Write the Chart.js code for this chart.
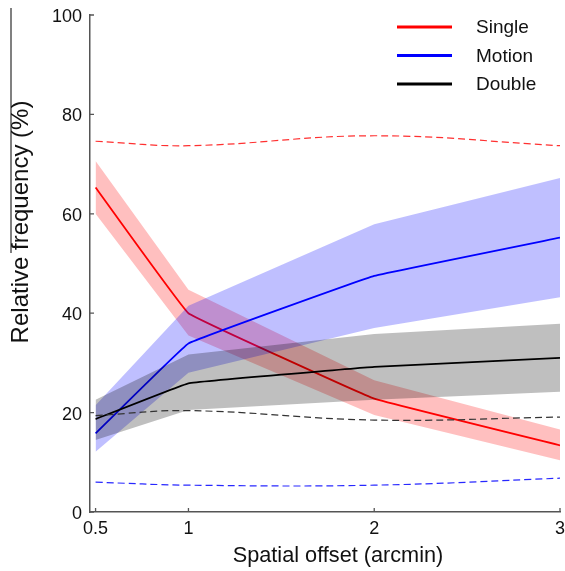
<!DOCTYPE html>
<html>
<head>
<meta charset="utf-8">
<script src="https://cdn.jsdelivr.net/npm/chart.js@4/dist/chart.umd.min.js"></script>
<style>
  html, body { margin: 0; padding: 0; background: #fff; }
  #wrap { position: relative; width: 565px; height: 571px; }
  #frame { position: absolute; left: 10px; top: 8px; width: 1.5px; height: 245px; background: #808080; }
  canvas { position: absolute; left: 0; top: 0; }
</style>
</head>
<body>
<div id="wrap">
  <div id="frame"></div>
  <canvas id="c" width="565" height="571"></canvas>
</div>
<script>
// ---- data ----
const xValues = [0.5, 1, 2, 3];
const xTicks = [0.5, 1, 2, 3];
const yTicks = [0, 20, 40, 60, 80, 100];
const seriesNames = ["Single", "Motion", "Double"];

const singleMean  = [65.3, 40.0, 22.8, 13.4];
const singleUpper = [70.6, 44.7, 26.5, 16.6];
const singleLower = [60.0, 35.5, 19.5, 10.4];

const motionMean  = [15.8, 33.9, 47.5, 55.2];
const motionUpper = [21.5, 41.5, 57.9, 67.2];
const motionLower = [12.1, 28.0, 37.0, 43.2];

const doubleMean  = [18.7, 25.9, 29.2, 31.0];
const doubleUpper = [22.6, 31.7, 35.8, 37.9];
const doubleLower = [14.5, 20.5, 22.6, 24.2];

const singleDashed = [74.6, 73.7, 75.7, 73.7];
const motionDashed = [6.0, 5.4, 5.4, 6.8];
const doubleDashed = [19.4, 20.4, 18.5, 19.1];

// ---- build datasets ----
const pts = arr => arr.map((v, i) => ({ x: xValues[i], y: v }));
const FONT = "'Liberation Sans', Arial, sans-serif";
const AXIS = "#555555";

const datasets = [];
function addBand(lower, upper, fillColor, order) {
  const li = datasets.length;
  datasets.push({ data: pts(lower), borderWidth: 0, pointRadius: 0, fill: false, order: order, borderColor: 'rgba(0,0,0,0)' });
  datasets.push({ data: pts(upper), borderWidth: 0, pointRadius: 0, fill: li, backgroundColor: fillColor, order: order, borderColor: 'rgba(0,0,0,0)' });
}
function addLine(data, color, width, order, dash, tension) {
  datasets.push({ data: pts(data), borderColor: color, borderWidth: width, pointRadius: 0, fill: false,
    order: order, borderDash: dash || [], tension: tension || 0 });
}
// higher order = drawn earlier (behind)
addBand(singleLower, singleUpper, 'rgba(255,0,0,0.25)', 20);
addLine(singleMean, '#ff0000', 1.8, 19, null, 0.05);
addBand(motionLower, motionUpper, 'rgba(0,0,255,0.25)', 18);
addLine(motionMean, '#0000ff', 1.8, 17, null, 0.05);
addBand(doubleLower, doubleUpper, 'rgba(0,0,0,0.25)', 16);
addLine(doubleMean, '#000000', 1.8, 15, null, 0.05);
addLine(singleDashed, '#ff3030', 1.2, 3, [7, 4], 0.4);
addLine(motionDashed, '#2828ff', 1.2, 2, [7, 4], 0.4);
addLine(doubleDashed, '#333333', 1.2, 1, [7, 4], 0.4);

const legendColors = ['#ff0000', '#0000ff', '#000000'];

const decorPlugin = {
  id: 'decor',
  afterDraw(chart) {
    const ctx = chart.ctx;
    const xs = chart.scales.x, ys = chart.scales.y;
    const area = chart.chartArea;
    ctx.save();
    // inward ticks
    ctx.strokeStyle = AXIS;
    ctx.lineWidth = 1.3;
    ctx.beginPath();
    yTicks.forEach(v => { const y = ys.getPixelForValue(v); ctx.moveTo(area.left, y); ctx.lineTo(area.left + 4, y); });
    xTicks.forEach(v => { const x = xs.getPixelForValue(v); ctx.moveTo(x, area.bottom); ctx.lineTo(x, area.bottom - 4); });
    ctx.stroke();
    // legend
    ctx.font = '19px ' + FONT;
    ctx.textBaseline = 'middle';
    ctx.textAlign = 'left';
    seriesNames.forEach((n, i) => {
      const y = 27 + i * 28.5;
      ctx.strokeStyle = legendColors[i];
      ctx.lineWidth = 3;
      ctx.beginPath(); ctx.moveTo(397, y); ctx.lineTo(452, y); ctx.stroke();
      ctx.fillStyle = '#111';
      ctx.fillText(n, 476, y + 1);
    });
    // axis titles
    ctx.fillStyle = '#111';
    ctx.textAlign = 'center';
    ctx.font = '21.7px ' + FONT;
    ctx.fillText('Spatial offset (arcmin)', 338, 556);
    ctx.font = '24px ' + FONT;
    ctx.translate(21, 222);
    ctx.rotate(-Math.PI / 2);
    ctx.fillText('Relative frequency (%)', 0, 0);
    ctx.restore();
  }
};

function zeroPad(s) { s.paddingLeft = 0; s.paddingRight = 0; s.paddingTop = 0; s.paddingBottom = 0; }

new Chart(document.getElementById('c'), {
  type: 'line',
  data: { datasets },
  plugins: [decorPlugin],
  options: {
    responsive: false,
    animation: false,
    events: [],
    layout: { padding: { left: 0, right: 5, top: 15, bottom: 0 } },
    plugins: { legend: { display: false }, tooltip: { enabled: false }, filler: { propagate: false } },
    scales: {
      x: {
        type: 'linear', min: 0.47, max: 3,
        afterBuildTicks: s => { s.ticks = xTicks.map(v => ({ value: v })); },
        afterFit: s => { s.height = 59; zeroPad(s); },
        ticks: { font: { family: FONT, size: 18 }, color: '#111', padding: 6, maxRotation: 0,
                 callback: v => String(v) },
        grid: { display: true, drawOnChartArea: false, drawTicks: false },
        border: { display: true, color: AXIS, width: 1.5 }
      },
      y: {
        type: 'linear', min: 0, max: 100,
        afterBuildTicks: s => { s.ticks = yTicks.map(v => ({ value: v })); },
        afterFit: s => { s.width = 90; zeroPad(s); },
        ticks: { font: { family: FONT, size: 18 }, color: '#111', padding: 8, labelOffset: 2 },
        grid: { display: true, drawOnChartArea: false, drawTicks: false },
        border: { display: true, color: AXIS, width: 1.5 }
      }
    }
  }
});
</script>
</body>
</html>
